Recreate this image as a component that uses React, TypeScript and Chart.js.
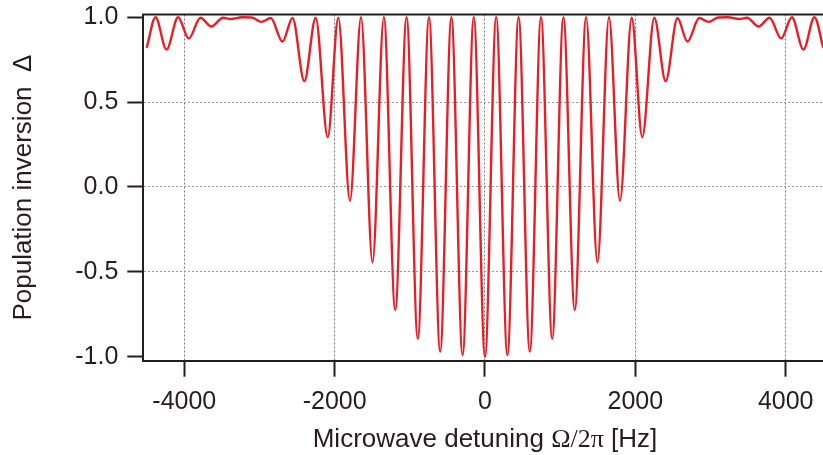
import React, { useEffect, useRef } from 'react';
import { Chart, registerables } from 'chart.js';

Chart.register(...registerables);

// Extrema (and a few shoulder points) of the Ramsey fringe
const detuningHz = [
  -4500, -4382, -4236, -4082, -3940, -3785, -3640, -3485, -3385, -3230, -3100,
  -2975, -2850, -2693, -2560, -2403, -2252, -2092, -1951, -1796, -1649, -1496,
  -1345, -1194, -1043, -894, -745, -596, -447, -298, -149,
  0,
  149, 298, 447, 596, 745, 894, 1043, 1194, 1345, 1496, 1649, 1796, 1951, 2092,
  2252, 2403, 2560, 2693, 2850, 2975, 3100, 3230, 3385, 3485, 3640, 3785, 3940,
  4082, 4236, 4382, 4500,
];

const inversion = [
  0.82, 1.0, 0.81, 1.0, 0.875, 0.997, 0.946, 0.997, 0.99, 1.0, 0.999,
  0.973, 0.996, 0.857, 0.996, 0.624, 0.997, 0.294, 0.997, -0.082, 1.0, -0.445,
  1.0, -0.725, 1.0, -0.895, 1.0, -0.97, 1.0, -0.99, 1.0,
  -1.0,
  1.0, -0.99, 1.0, -0.97, 1.0, -0.895, 1.0, -0.725, 1.0, -0.445, 1.0, -0.082, 0.997, 0.294,
  0.997, 0.624, 0.996, 0.857, 0.996, 0.973, 0.999, 1.0, 0.99, 0.997, 0.946, 0.997, 0.875,
  1.0, 0.81, 1.0, 0.82,
];

const xTickValues = [-4000, -2000, 0, 2000, 4000];
const yTickValues = [-1, -0.5, 0, 0.5, 1];
const xTitleParts = ['Microwave detuning ', 'Ω/2π', ' [Hz]'];
const yTitle = 'Population inversion  Δ';

export default function App() {
  const ref = useRef<HTMLCanvasElement>(null);

  useEffect(() => {
    const canvas = ref.current;
    if (!canvas) return;
    const SANS = '"Liberation Sans", Arial, Helvetica, sans-serif';
    const SERIF = '"Liberation Serif", "Times New Roman", serif';
    const ink = '#231f20';

    const framePlugin = {
      id: 'frameAndTitle',
      afterDraw(chart: any) {
        const { ctx, chartArea } = chart;
        ctx.save();
        ctx.strokeStyle = ink;
        ctx.lineWidth = 2;
        ctx.beginPath();
        ctx.moveTo(chartArea.left - 1, chartArea.top);
        ctx.lineTo(chartArea.right, chartArea.top);
        ctx.stroke();

        // x-axis title with mixed fonts
        const fonts = [`26px ${SANS}`, `26px ${SERIF}`, `26px ${SANS}`];
        const widths = xTitleParts.map((t, i) => {
          ctx.font = fonts[i];
          return ctx.measureText(t).width;
        });
        const total = widths.reduce((a: number, b: number) => a + b, 0);
        const cx = chart.scales.x.getPixelForValue(0);
        let x = cx - total / 2;
        const baseline = 446.5;
        ctx.fillStyle = ink;
        ctx.textAlign = 'left';
        ctx.textBaseline = 'alphabetic';
        xTitleParts.forEach((t, i) => {
          ctx.font = fonts[i];
          ctx.fillText(t, x, baseline);
          x += widths[i];
        });
        ctx.restore();
      },
    };

    const chart = new Chart(canvas, {
      type: 'line',
      data: {
        datasets: [
          {
            data: detuningHz.map((x, i) => ({ x, y: inversion[i] })),
            borderColor: 'rgb(237,28,36)',
            borderWidth: 2.4,
            pointRadius: 0,
            cubicInterpolationMode: 'monotone',
            fill: false,
          },
        ],
      },
      options: {
        animation: false,
        responsive: false,
        devicePixelRatio: 1,
        layout: { padding: { top: 14.5, left: 0, right: 0, bottom: 0 } },
        plugins: { legend: { display: false }, tooltip: { enabled: false } },
        scales: {
          x: {
            type: 'linear',
            min: -4545,
            max: 4496,
            afterBuildTicks: (s: any) => {
              s.ticks = xTickValues.map((v) => ({ value: v }));
            },
            afterFit: (s: any) => {
              s.height = 94.3;
              s.paddingLeft = 0;
              s.paddingRight = 0;
            },
            grid: {
              color: '#777',
              lineWidth: 1,
              tickLength: 16,
              tickColor: ink,
              tickWidth: 2,
            },
            border: { color: ink, width: 2, dash: [2, 2] },
            ticks: {
              font: { family: SANS, size: 25 },
              color: ink,
              padding: 10,
              maxRotation: 0,
              callback: (v: any) => String(v),
            },
          },
          y: {
            type: 'linear',
            min: -1.0236,
            max: 1.0165,
            afterBuildTicks: (s: any) => {
              s.ticks = yTickValues.map((v) => ({ value: v }));
            },
            afterFit: (s: any) => {
              s.width = 143.3;
              s.paddingTop = 0;
              s.paddingBottom = 0;
            },
            grid: {
              color: (c: any) =>
                c.tick && Math.abs(c.tick.value) > 0.99 ? 'rgba(0,0,0,0)' : '#999',
              lineWidth: 1,
              tickLength: 16,
              tickColor: ink,
              tickWidth: 2,
            },
            border: { color: ink, width: 2, dash: [2, 2] },
            ticks: {
              font: { family: SANS, size: 25 },
              color: ink,
              padding: 9,
              callback: (v: any) => Number(v).toFixed(1),
            },
            title: {
              display: true,
              text: yTitle,
              font: { family: SANS, size: 26 },
              color: ink,
              padding: { top: 8, bottom: 0 },
            },
          },
        },
      },
      plugins: [framePlugin],
    });

    return () => chart.destroy();
  }, []);

  return (
    <div style={{ position: 'fixed', left: 0, top: 0, width: 823, height: 455, background: '#fff' }}>
      <canvas ref={ref} width={823} height={455} style={{ display: 'block' }} />
    </div>
  );
}
